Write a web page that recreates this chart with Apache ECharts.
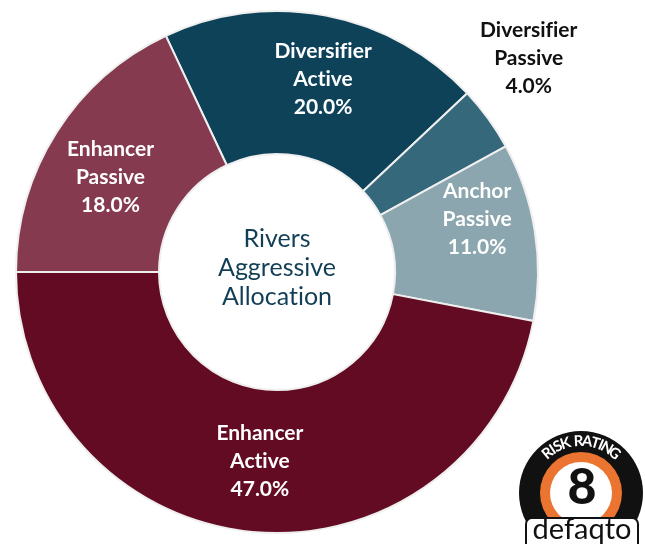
<!DOCTYPE html>
<html><head><meta charset="utf-8">
<script src="https://cdn.jsdelivr.net/npm/echarts@6/dist/echarts.min.js"></script>
<style>html,body{margin:0;padding:0;background:#fff}#c{width:645px;height:544px}</style>
</head><body><div id="c"></div>
<script>
// ---- data ----
const categories = ['Diversifier Active', 'Diversifier Passive', 'Anchor Passive', 'Enhancer Active', 'Enhancer Passive'];
const values = [20, 4, 11, 47, 18];
const centerTitle = ['Rivers', 'Aggressive', 'Allocation'];
const badgeTop = 'RISK RATING';
const badgeNumber = '8';
const badgeBrand = 'defaqto';

// ---- styles / layout ----
const colors = ['#0d4259', '#35687b', '#8ba6ae', '#630b23', '#853a50'];
const labelColors = ['#fff', '#111', '#fff', '#fff', '#fff'];
const labelOffsets = [[10, -4], [96, -101], [10, -23], [1, -2], [-4, 8]];

// break typographic ligatures (fi, ti) so text looks like the original
const noLig = s => s.replace(/f([il])/g, 'f\u200C$1').replace(/t([i])/g, 't\u200C$1');

const chart = echarts.init(document.getElementById('c'), null, {renderer: 'canvas'});

// curved "RISK RATING" letters
const bcx = 581, bcy = 493, br = 52;
const weights = {' ': 0.5, 'I': 0.45, 'S': 0.9, 'T': 0.9, 'N': 1.05, 'G': 1.05};
const chars = badgeTop.split('');
const w = chars.map(c => weights[c] || 1);
let cum = [], acc = 0;
w.forEach((v, i) => { cum.push(acc + v / 2); acc += v; });
const first = cum[0], last = cum[cum.length - 1];
const span = 80;
const letterEls = chars.map((c, i) => {
  const ang = (-span / 2 + span * (cum[i] - first) / (last - first)) * Math.PI / 180;
  return {
    type: 'text', x: bcx + br * Math.sin(ang), y: bcy - br * Math.cos(ang), rotation: -ang, z: 12,
    style: {text: c, fill: '#fff', fontSize: 15, fontWeight: 'bold', fontFamily: 'Lato', align: 'center', verticalAlign: 'middle'}
  };
});

chart.setOption({
  animation: false,
  backgroundColor: '#fff',
  series: [{
    type: 'pie',
    center: [277, 272],
    radius: [118, 261],
    startAngle: 115.2,
    clockwise: true,
    avoidLabelOverlap: false,
    emphasis: {disabled: true},
    itemStyle: {borderColor: '#efefef', borderWidth: 2},
    label: {
      show: true, position: 'inside',
      fontFamily: 'Lato', fontWeight: 'bold', fontSize: 21, lineHeight: 28,
      formatter: p => noLig(p.name.replace(' ', '\n')) + '\n' + p.value.toFixed(1) + '%'
    },
    labelLine: {show: false},
    data: categories.map((n, i) => ({
      name: n, value: values[i],
      itemStyle: {color: colors[i]},
      label: {color: labelColors[i], offset: labelOffsets[i]}
    }))
  }],
  graphic: [
    {type: 'text', x: 277, y: 268, z: 10,
     style: {text: noLig(centerTitle.join('\n')), fill: '#123f56', fontFamily: 'Lato', fontSize: 25, lineHeight: 29, align: 'center', verticalAlign: 'middle'}},
    {type: 'circle', shape: {cx: bcx, cy: bcy, r: 62}, style: {fill: '#111'}, z: 10},
    {type: 'circle', shape: {cx: bcx, cy: bcy, r: 41}, style: {fill: '#ea7430'}, z: 11},
    {type: 'circle', shape: {cx: bcx, cy: bcy, r: 31}, style: {fill: '#fff'}, z: 11},
    {type: 'text', x: bcx + 1, y: bcy - 5, z: 12,
     style: {text: badgeNumber, fill: '#111', fontFamily: 'Lato', fontWeight: 900, fontSize: 50, align: 'center', verticalAlign: 'middle'}},
    {type: 'rect', shape: {x: 526, y: 518, width: 112, height: 34, r: 6}, style: {fill: '#fff', stroke: '#111', lineWidth: 2}, z: 13},
    {type: 'text', x: 582, y: 530, z: 14,
     style: {text: badgeBrand, fill: '#111', fontFamily: 'Lato', fontSize: 29, align: 'center', verticalAlign: 'middle'}}
  ].concat(letterEls)
});
</script>
</body></html>
